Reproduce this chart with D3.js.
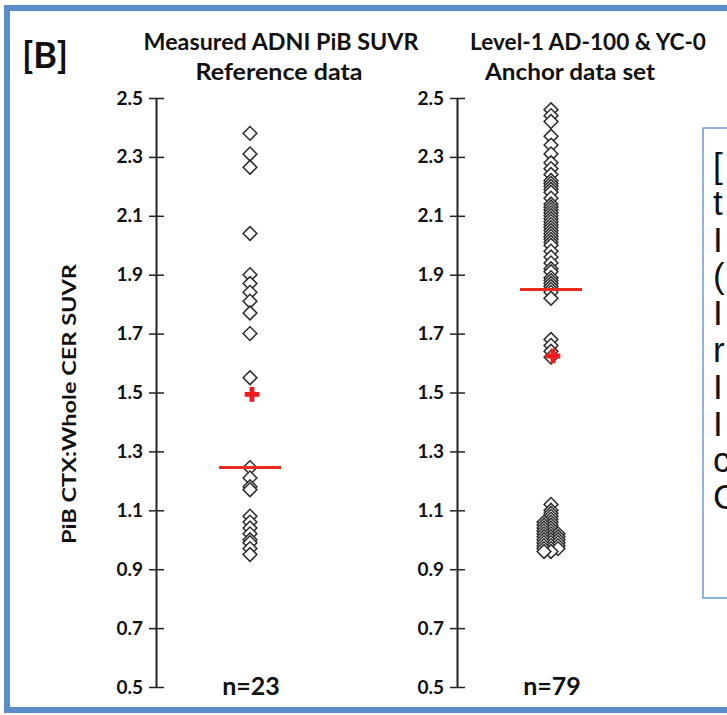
<!DOCTYPE html>
<html>
<head>
<meta charset="utf-8">
<script src="https://cdn.jsdelivr.net/npm/d3@7"></script>
<style>
  body { margin: 0; background: #fff; }
  text { font-family: Lato, "Open Sans", sans-serif; font-weight: 700; fill: #111; }
</style>
</head>
<body>
<div id="chart"></div>
<script>
// PiB SUVR values
const referenceValues = [2.38, 2.31, 2.265, 2.04, 1.90, 1.87, 1.84, 1.81, 1.77, 1.70, 1.55,
  1.245, 1.21, 1.18, 1.17, 1.08, 1.06, 1.04, 1.02, 1.00, 0.99, 0.97, 0.95];

const anchorValues = [2.46, 2.44, 2.42, 2.37, 2.34, 2.31, 2.28, 2.26, 2.24, 2.22, 2.21, 2.20, 2.19,
  2.18, 2.16, 2.14, 2.13, 2.12, 2.11, 2.10, 2.09, 2.08, 2.07, 2.06, 2.05, 2.04, 2.03, 2.02,
  2.01, 2.00, 1.98, 1.96, 1.94, 1.92, 1.91, 1.89, 1.88, 1.87, 1.86, 1.85, 1.84, 1.82,
  1.68, 1.66, 1.64, 1.62,
  1.12, 1.10, 1.09, 1.08, 1.07, 1.06, 1.06, 1.05, 1.05, 1.04, 1.04, 1.03, 1.03,
  1.02, 1.02, 1.02, 1.01, 1.01, 1.01, 1.00, 1.00, 1.00, 0.99, 0.99, 0.99,
  0.98, 0.98, 0.98, 0.97, 0.97, 0.97, 0.96, 0.96];

const groupTitles = [
  ["Measured ADNI PiB SUVR", "Reference data"],
  ["Level-1 AD-100 & YC-0", "Anchor data set"]
];
const tickValues = [0.5, 0.7, 0.9, 1.1, 1.3, 1.5, 1.7, 1.9, 2.1, 2.3, 2.5];
const yLabel = "PiB CTX:Whole CER SUVR";
// only the first glyph of each line of the side note is visible
const boxLines = ["[", "t", "I", "(", "I", "r", "I", "I", "c", "C"];

const width = 727, height = 715;
const groups = [referenceValues, anchorValues];

const svg = d3.select("#chart").append("svg")
  .attr("width", width)
  .attr("height", height);

svg.append("rect").attr("width", width).attr("height", height).attr("fill", "#fff");

// outer frame
svg.append("rect")
  .attr("x", 7).attr("y", 8)
  .attr("width", 760).attr("height", 702)
  .attr("fill", "none")
  .attr("stroke", "#5b8bc9")
  .attr("stroke-width", 6);

var y = d3.scaleLinear().domain([0.5, 2.5]).range([687, 98]);
var x = d3.scaleLinear().domain([0, 1]).range([250, 551]);
var axisOffset = 94;

svg.append("text")
  .attr("x", 22).attr("y", 68)
  .attr("font-size", 36)
  .text("[B]");

// y label
svg.append("text")
  .attr("transform", "translate(76, 404) rotate(-90)")
  .attr("text-anchor", "middle")
  .attr("font-size", 19)
  .attr("textLength", 280)
  .attr("lengthAdjust", "spacingAndGlyphs")
  .text(yLabel);

var titleCenters = [[281, 279], [588, 570]];
var titleWidths = [[275, 167], [236, 170]];

groups.forEach(function(vals, i) {
  var cx = x(i);
  var ax = cx - axisOffset;

  var yAxis = d3.axisLeft(y)
    .tickValues(tickValues)
    .tickFormat(d3.format(".1f"))
    .tickSize(7)
    .tickSizeOuter(0)
    .tickPadding(6);

  var g = svg.append("g")
    .attr("transform", `translate(${ax},0)`)
    .call(yAxis);
  g.select(".domain").attr("stroke", "#222").attr("stroke-width", 2);
  g.selectAll(".tick line").attr("x1", -7).attr("x2", 8).attr("stroke", "#222").attr("stroke-width", 1.5);
  g.selectAll(".tick text")
    .attr("font-family", "Lato, sans-serif")
    .attr("font-weight", 700)
    .attr("font-size", 19)
    .attr("fill", "#111");

  // titles
  groupTitles[i].forEach(function(t, k) {
    svg.append("text")
      .attr("x", titleCenters[i][k])
      .attr("y", k == 0 ? 50 : 80)
      .attr("text-anchor", "middle")
      .attr("font-size", 22)
      .attr("textLength", titleWidths[i][k])
      .attr("lengthAdjust", "spacingAndGlyphs")
      .text(t);
  });

  // spread tied values sideways
  var seen = {};
  var pts = vals.map(function(v) {
    var key = v.toFixed(3);
    var k = seen[key] || 0;
    seen[key] = k + 1;
    var off = [0, -1, 1, -2, 2][k] * 7;
    return { v: v, off: off };
  });

  svg.append("g").selectAll("path")
    .data(pts)
    .join("path")
    .attr("d", d3.symbol(d3.symbolSquare, 95))
    .attr("transform", d => `translate(${cx + d.off},${y(d.v)}) rotate(45)`)
    .attr("fill", "#fff")
    .attr("stroke", "#2a2a2a")
    .attr("stroke-width", 1.5);

  // median line and mean cross
  var med = d3.median(vals), mean = d3.mean(vals);
  svg.append("line")
    .attr("x1", cx - 31).attr("x2", cx + 31)
    .attr("y1", y(med)).attr("y2", y(med))
    .attr("stroke", "#ea2a1c")
    .attr("stroke-width", 3);
  svg.append("path")
    .attr("d", d3.symbol(d3.symbolCross, 120))
    .attr("transform", `translate(${cx + 2},${y(mean)})`)
    .attr("fill", "#ee1c1c");

  svg.append("text")
    .attr("x", cx + 1).attr("y", 695)
    .attr("text-anchor", "middle")
    .attr("font-size", 25)
    .text("n=" + vals.length);
});

// text box on the right, cut by the picture edge
svg.append("rect")
  .attr("x", 703).attr("y", 128)
  .attr("width", 60).attr("height", 470)
  .attr("fill", "#fff")
  .attr("stroke", "#6a9bd1")
  .attr("stroke-width", 1.5);

svg.append("g")
  .selectAll("text")
  .data(boxLines)
  .join("text")
  .attr("x", 713)
  .attr("y", (d, i) => 178 + i * 36.8)
  .style("font-family", "'Liberation Sans', Arial, sans-serif")
  .style("font-weight", 400)
  .attr("font-size", 35)
  .text(d => d);
</script>
</body>
</html>
